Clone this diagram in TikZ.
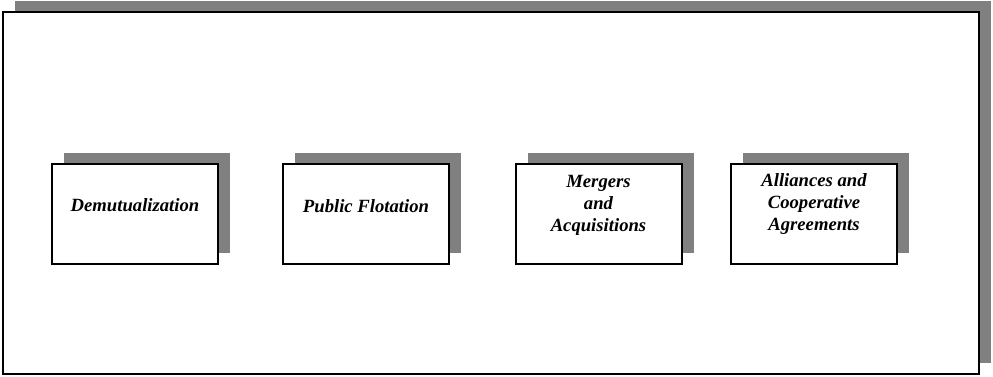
\documentclass[tikz,border=0pt]{standalone}
\usepackage{fontspec}
\setmainfont{Liberation Serif}
\usetikzlibrary{shadows}

\tikzset{
	stagebox/.style={draw,line width=1.5pt,fill=white,minimum width=124.5pt,minimum height=75pt,inner sep=0pt,
		drop shadow={shadow xshift=9pt,shadow yshift=8.25pt,fill=shadowgray,opacity=1}},
	stagetext/.style={align=center,font=\fontsize{14}{16.5}\selectfont\bfseries\itshape}
}

\begin{document}
\begin{tikzpicture}[x=0.75pt,y=-0.75pt]
					\definecolor{shadowgray}{HTML}{808080}
					\useasboundingbox (0,0) rectangle (993,376);
					% outer frame with its shadow
					\fill[shadowgray] (15,1) rectangle (991,363);
					\draw[line width=1.5pt,fill=white] (3,12) rectangle (979,374);
					
					\node[stagebox] (demut) at (135,214) {};
					\node[stagebox] (flotation) at (366,214) {};
					\node[stagebox] (mergers) at (598.5,214) {};
					\node[stagebox] (alliances) at (814,214) {};
					
					\node[stagetext] (demuttext) at ([yshift=6.75pt]demut.center) {Demutualization};
					\node[stagetext] (flotationtext) at ([yshift=6pt]flotation.center) {Public Flotation};
					\node[stagetext] (mergerstext) at ([yshift=6.75pt]mergers.center) {Mergers\\and\\Acquisitions};
					\node[stagetext] (alliancestext) at ([yshift=7.5pt]alliances.center) {Alliances and\\Cooperative\\Agreements};
				\end{tikzpicture}
\end{document}
